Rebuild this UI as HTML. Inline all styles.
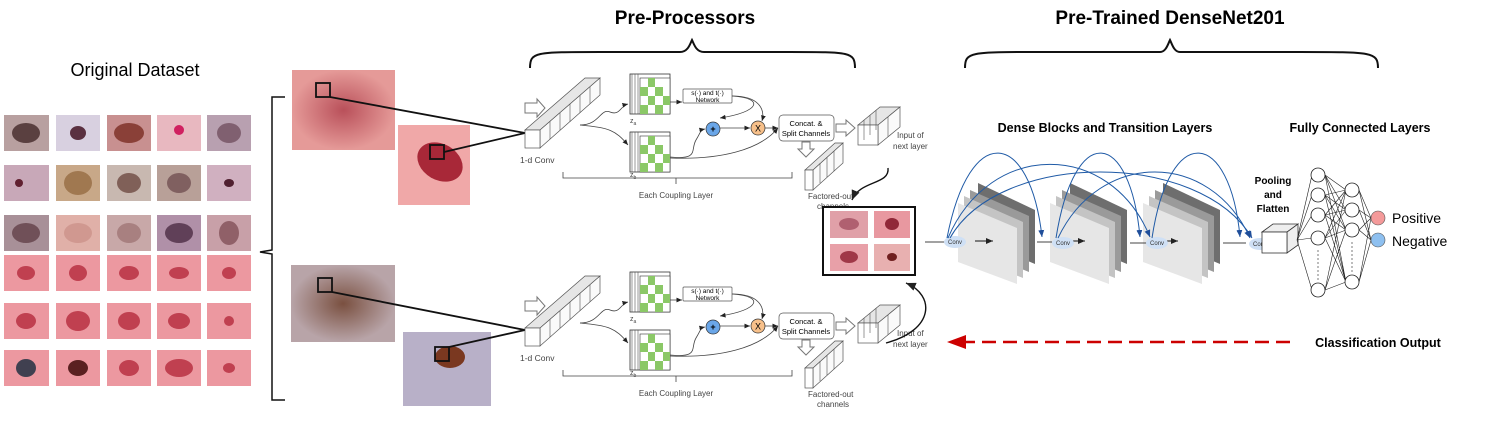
<!DOCTYPE html><html><head><meta charset="utf-8"><style>body{margin:0;background:#fff}svg{display:block;font-family:"Liberation Sans",sans-serif}</style></head><body>
<svg width="1495" height="422" viewBox="0 0 1495 422" xmlns="http://www.w3.org/2000/svg">
<defs>
<marker id="ar" markerWidth="8" markerHeight="8" refX="7" refY="4" orient="auto"><path d="M0,1 L7,4 L0,7z" fill="#222"/></marker>
<marker id="ab" markerWidth="8" markerHeight="8" refX="7" refY="4" orient="auto"><path d="M0,1 L7,4 L0,7z" fill="#1f4e9a"/></marker>
<radialGradient id="sk1"><stop offset="0" stop-color="#b9505a"/><stop offset="1" stop-color="#e59a98"/></radialGradient>
<radialGradient id="sk2"><stop offset="0" stop-color="#7a5040"/><stop offset="1" stop-color="#b8a4a8"/></radialGradient>
<g id="cube"><rect x="0" y="0" width="40" height="40" fill="#fff" stroke="#333" stroke-width="0.8"/>
<rect x="10" y="4" width="30" height="36" fill="#fff" stroke="#333" stroke-width="0.6"/>
<g fill="#8bc867"><rect x="18" y="4" width="7" height="9"/><rect x="10" y="13" width="8" height="9"/><rect x="25" y="13" width="8" height="9"/><rect x="18" y="22" width="7" height="9"/><rect x="33" y="22" width="7" height="9"/><rect x="10" y="31" width="8" height="9"/><rect x="25" y="31" width="8" height="9"/></g>
<path d="M2,0V40M5,0V40M8,0V40" stroke="#555" stroke-width="0.6"/></g>
<g id="coupling">
<path d="M525,103 h12 v-4 l8,9 l-8,9 v-4 h-12z" fill="#fff" stroke="#777"/>
<path d="M525,130 L585,78 L600,78 L540,130Z" fill="#e6e6e6" stroke="#555" stroke-width="0.7"/>
<path d="M540,130 L600,78 L600,95 L540,148Z" fill="#fafafa" stroke="#555" stroke-width="0.7"/>
<path d="M550,121V139M560,113V130M570,104V122M580,95V113M590,87V104" stroke="#555" stroke-width="0.6"/>
<rect x="525" y="130" width="15" height="18" fill="#fff" stroke="#555" stroke-width="0.7"/>
<text x="520" y="163" font-size="8.5" fill="#444">1-d Conv</text>
<use href="#cube" x="630" y="74"/><text x="630" y="123" font-size="7" fill="#444">z<tspan font-size="5" dy="2">a</tspan></text>
<use href="#cube" x="630" y="132"/><text x="630" y="177" font-size="7" fill="#444">z<tspan font-size="5" dy="2">b</tspan></text>
<path d="M580,125 C600,125 600,108 610,112 S620,106 628,104" fill="none" stroke="#444" stroke-width="0.8" marker-end="url(#ar)"/>
<path d="M580,125 C610,128 615,130 628,145" fill="none" stroke="#444" stroke-width="0.8" marker-end="url(#ar)"/>
<path d="M670,102 H682" stroke="#444" stroke-width="0.8" marker-end="url(#ar)"/>
<rect x="683" y="89" width="49" height="14" rx="1" fill="#fff" stroke="#555" stroke-width="0.7"/>
<text x="707.5" y="95" font-size="6.5" text-anchor="middle">s(·) and t(·)</text><text x="707.5" y="102" font-size="6.5" text-anchor="middle">Network</text>
<path d="M732,96 C765,98 760,112 720,118" fill="none" stroke="#444" stroke-width="0.8" marker-end="url(#ar)"/>
<path d="M732,96 C760,96 765,110 762,121" fill="none" stroke="#444" stroke-width="0.8" marker-end="url(#ar)"/>
<circle cx="713" cy="129" r="7" fill="#6aa6e8" stroke="#333" stroke-width="0.7"/><text x="713" y="132" font-size="9" text-anchor="middle" font-weight="bold">+</text>
<circle cx="758" cy="128" r="7" fill="#f7c08a" stroke="#333" stroke-width="0.7"/><text x="758" y="131.5" font-size="9" text-anchor="middle">X</text>
<path d="M720,128 H750" stroke="#444" stroke-width="0.8" marker-end="url(#ar)"/>
<path d="M670,157 C700,160 690,150 696,140 S700,130 705,129" fill="none" stroke="#444" stroke-width="0.8" marker-end="url(#ar)"/>
<path d="M670,158 C720,160 760,150 778,128" fill="none" stroke="#444" stroke-width="0.8" marker-end="url(#ar)"/>
<path d="M765,128 H778" stroke="#444" stroke-width="0.8" marker-end="url(#ar)"/>
<rect x="779" y="115" width="55" height="26" rx="4" fill="#fff" stroke="#555" stroke-width="0.7"/>
<text x="806" y="126" font-size="7.5" text-anchor="middle">Concat. &amp;</text><text x="806" y="136" font-size="7.5" text-anchor="middle">Split Channels</text>
<path d="M836,124 h10 v-4 l9,8 l-9,8 v-4 h-10z" fill="#fff" stroke="#777"/>
<path d="M802,142 h8 v7 h4 l-8,8 l-8,-8 h4z" fill="#fff" stroke="#777"/>
<path d="M858,125 L880,107 L900,107 L878,125Z" fill="#e6e6e6" stroke="#555" stroke-width="0.7"/>
<path d="M878,125 L900,107 V127 L878,145Z" fill="#fafafa" stroke="#555" stroke-width="0.7"/>
<rect x="858" y="125" width="20" height="20" fill="#fff" stroke="#555" stroke-width="0.7"/>
<path d="M864,120V140M870,115V135M876,110V130M888,117V137" stroke="#555" stroke-width="0.6"/>
<text x="897" y="138" font-size="8" fill="#444">Input of</text><text x="893" y="149" font-size="8" fill="#444">next layer</text>
<path d="M805,170 L835,143 L843,143 L813,170Z" fill="#e6e6e6" stroke="#555" stroke-width="0.7"/>
<path d="M813,170 L843,143 V163 L813,190Z" fill="#fafafa" stroke="#555" stroke-width="0.7"/>
<rect x="805" y="170" width="8" height="20" fill="#fff" stroke="#555" stroke-width="0.7"/>
<path d="M820,163V183M827,157V177M834,151V171" stroke="#555" stroke-width="0.6"/>
<text x="808" y="199" font-size="8" fill="#444">Factored-out</text><text x="817" y="209" font-size="8" fill="#444">channels</text>
<path d="M563,172V178H792V172M676,178V184" fill="none" stroke="#444" stroke-width="0.8"/>
<text x="676" y="198" font-size="8" fill="#444" text-anchor="middle">Each Coupling Layer</text>
</g>
</defs>

<text x="135" y="76" font-size="18" text-anchor="middle">Original Dataset</text>
<g>
<rect x="4" y="115" width="45" height="36" fill="#b8a0a0"/><ellipse cx="26" cy="133" rx="14" ry="10" fill="#5a4040"/>
<rect x="56" y="115" width="44" height="36" fill="#d8d0e0"/><ellipse cx="78" cy="133" rx="8" ry="7" fill="#5a3040"/>
<rect x="107" y="115" width="44" height="36" fill="#c89090"/><ellipse cx="129" cy="133" rx="15" ry="10" fill="#8a4038"/>
<rect x="157" y="115" width="44" height="36" fill="#e8b8c0"/><ellipse cx="179" cy="130" rx="5" ry="5" fill="#d02060"/>
<rect x="207" y="115" width="44" height="36" fill="#b8a0b0"/><ellipse cx="229" cy="133" rx="12" ry="10" fill="#806070"/>
<rect x="4" y="165" width="45" height="36" fill="#c8a8b8"/><ellipse cx="19" cy="183" rx="4" ry="4" fill="#602030"/>
<rect x="56" y="165" width="44" height="36" fill="#c8a888"/><ellipse cx="78" cy="183" rx="14" ry="12" fill="#a07850"/>
<rect x="107" y="165" width="44" height="36" fill="#c8b8b0"/><ellipse cx="129" cy="183" rx="12" ry="10" fill="#806058"/>
<rect x="157" y="165" width="44" height="36" fill="#b8a098"/><ellipse cx="179" cy="183" rx="12" ry="10" fill="#806060"/>
<rect x="207" y="165" width="44" height="36" fill="#d0b0c0"/><ellipse cx="229" cy="183" rx="5" ry="4" fill="#502030"/>
<rect x="4" y="215" width="45" height="36" fill="#a89098"/><ellipse cx="26" cy="233" rx="14" ry="10" fill="#705058"/>
<rect x="56" y="215" width="44" height="36" fill="#e0b0a8"/><ellipse cx="78" cy="233" rx="14" ry="10" fill="#d09890"/>
<rect x="107" y="215" width="44" height="36" fill="#c8a8a8"/><ellipse cx="129" cy="233" rx="12" ry="10" fill="#a88080"/>
<rect x="157" y="215" width="44" height="36" fill="#b090a8"/><ellipse cx="179" cy="233" rx="14" ry="10" fill="#604058"/>
<rect x="207" y="215" width="44" height="36" fill="#c8a0a8"/><ellipse cx="229" cy="233" rx="10" ry="12" fill="#906068"/>
<g fill="#ec98a0"><rect x="4" y="255" width="45" height="36"/><rect x="56" y="255" width="44" height="36"/><rect x="107" y="255" width="44" height="36"/><rect x="157" y="255" width="44" height="36"/><rect x="207" y="255" width="44" height="36"/>
<rect x="4" y="303" width="45" height="36"/><rect x="56" y="303" width="44" height="36"/><rect x="107" y="303" width="44" height="36"/><rect x="157" y="303" width="44" height="36"/><rect x="207" y="303" width="44" height="36"/>
<rect x="4" y="350" width="45" height="36"/><rect x="56" y="350" width="44" height="36"/><rect x="107" y="350" width="44" height="36"/><rect x="157" y="350" width="44" height="36"/><rect x="207" y="350" width="44" height="36"/></g>
<g fill="#c04050"><ellipse cx="26" cy="273" rx="9" ry="7"/><ellipse cx="78" cy="273" rx="9" ry="8"/><ellipse cx="129" cy="273" rx="10" ry="7"/><ellipse cx="179" cy="273" rx="10" ry="6"/><ellipse cx="229" cy="273" rx="7" ry="6"/>
<ellipse cx="26" cy="321" rx="10" ry="8"/><ellipse cx="78" cy="321" rx="12" ry="10"/><ellipse cx="129" cy="321" rx="11" ry="9"/><ellipse cx="179" cy="321" rx="11" ry="8"/><ellipse cx="229" cy="321" rx="5" ry="5"/>
<ellipse cx="78" cy="368" rx="10" ry="8" fill="#5a2020"/><ellipse cx="129" cy="368" rx="10" ry="8"/><ellipse cx="179" cy="368" rx="14" ry="9"/><ellipse cx="229" cy="368" rx="6" ry="5"/></g>
<ellipse cx="26" cy="368" rx="10" ry="9" fill="#404050"/>
</g>
<path d="M285,97 H272 V250 L260,252 L272,254 V400 H285" fill="none" stroke="#111" stroke-width="1.5"/>

<rect x="292" y="70" width="103" height="80" fill="url(#sk1)"/>
<rect x="398" y="125" width="72" height="80" fill="#f0a8a8"/><ellipse cx="440" cy="162" rx="24" ry="18" fill="#a82838" transform="rotate(30 440 162)"/>
<rect x="291" y="265" width="104" height="77" fill="url(#sk2)"/>
<rect x="403" y="332" width="88" height="74" fill="#b8b0c8"/><ellipse cx="450" cy="357" rx="15" ry="11" fill="#7a3820"/>
<g fill="none" stroke="#111" stroke-width="1.8">
<rect x="316" y="83" width="14" height="14"/><rect x="430" y="145" width="14" height="14"/>
<rect x="318" y="278" width="14" height="14"/><rect x="435" y="347" width="14" height="14"/>
<path d="M330,97 L525,133 M444,152 L525,133"/>
<path d="M332,292 L525,330 M449,347 L525,330"/></g>

<text x="685" y="24" font-size="19" font-weight="bold" text-anchor="middle">Pre-Processors</text>
<path d="M530,68 C530,52 535,52 600,52 H680 C688,52 690,44 692,40 C694,44 696,52 704,52 H790 C850,52 855,52 855,68" fill="none" stroke="#111" stroke-width="2"/>
<text x="1170" y="24" font-size="19" font-weight="bold" text-anchor="middle">Pre-Trained DenseNet201</text>
<path d="M965,68 C965,52 970,52 1040,52 H1160 C1166,52 1168,44 1170,40 C1172,44 1174,52 1180,52 H1300 C1372,52 1378,52 1378,68" fill="none" stroke="#111" stroke-width="2"/>

<use href="#coupling"/>
<use href="#coupling" y="198"/>

<rect x="823" y="207" width="92" height="68" fill="#fff" stroke="#111" stroke-width="2"/>
<rect x="830" y="211" width="38" height="27" fill="#e0a0a8"/><ellipse cx="849" cy="224" rx="10" ry="6" fill="#b06070"/>
<rect x="874" y="211" width="36" height="27" fill="#e898a0"/><ellipse cx="892" cy="224" rx="7" ry="6" fill="#902838"/>
<rect x="830" y="244" width="38" height="27" fill="#e8a0a8"/><ellipse cx="849" cy="257" rx="9" ry="6" fill="#a03848"/>
<rect x="874" y="244" width="36" height="27" fill="#e8b0b0"/><ellipse cx="892" cy="257" rx="5" ry="4" fill="#702020"/>
<path d="M888,168 C890,185 860,180 852,200" fill="none" stroke="#111" stroke-width="1.4" marker-end="url(#ar)"/>
<path d="M886,343 C935,330 935,295 906,283" fill="none" stroke="#111" stroke-width="1.4" marker-end="url(#ar)"/>

<text x="1105" y="132" font-size="12.5" font-weight="bold" text-anchor="middle">Dense Blocks and Transition Layers</text>
<text x="1360" y="132" font-size="12.5" font-weight="bold" text-anchor="middle">Fully Connected Layers</text>
<g id="blk">
<path d="M978,183 L1035,210 V264 L978,240Z" fill="#6e6e6e"/>
<path d="M970,190 L1029,216 V272 L970,248Z" fill="#9a9a9a"/>
<path d="M964,196 L1023,222 V278 L964,255Z" fill="#c4c4c4"/>
<path d="M958,203 L1017,228 V284 L958,262Z" fill="#e6e6e6"/>
<path d="M975,241 H993" stroke="#111" stroke-width="1" marker-end="url(#ar)"/>
</g>
<use href="#blk" x="92"/><use href="#blk" x="185"/>
<path d="M925,242 H945 M1037,242 H1052 M1130,243 H1148 M1223,243 H1246 M1268,243 H1276" stroke="#444" stroke-width="1"/>
<g fill="#cfe0f5"><ellipse cx="955" cy="242" rx="11" ry="6"/><ellipse cx="1063" cy="243" rx="11" ry="6"/><ellipse cx="1157" cy="243" rx="11" ry="6"/><ellipse cx="1260" cy="244" rx="11" ry="6"/></g>
<g font-size="6" text-anchor="middle" fill="#333"><text x="955" y="244">Conv</text><text x="1063" y="245">Conv</text><text x="1157" y="245">Conv</text><text x="1260" y="246">Conv</text></g>
<g fill="none" stroke="#1f5aa6" stroke-width="1" marker-end="url(#ab)">
<path d="M947,238 C970,120 1030,130 1042,237"/>
<path d="M948,238 C990,140 1110,140 1150,237"/>
<path d="M950,238 C1000,150 1200,150 1252,238"/>
<path d="M1056,238 C1075,120 1130,130 1140,237"/>
<path d="M1058,238 C1100,150 1210,150 1250,238"/>
<path d="M1152,238 C1170,120 1230,130 1240,237"/>
</g>
<text x="1273" y="184" font-size="10" font-weight="bold" text-anchor="middle">Pooling</text>
<text x="1273" y="198" font-size="10" font-weight="bold" text-anchor="middle">and</text>
<text x="1273" y="212" font-size="10" font-weight="bold" text-anchor="middle">Flatten</text>
<path d="M1262,232 L1273,224 H1298 L1287,232Z M1287,232 L1298,224 V245 L1287,253Z" fill="#eee" stroke="#333" stroke-width="0.8"/>
<rect x="1262" y="232" width="25" height="21" fill="#fff" stroke="#333" stroke-width="0.8"/>
<g stroke="#222" stroke-width="0.6">
<path d="M1297,240 L1312,175 M1297,240 L1312,195 M1297,240 L1312,215 M1297,240 L1312,238 M1297,240 L1312,290"/>
<path d="M1325,175 L1346,190 M1325,175 L1346,210 M1325,175 L1346,230 M1325,175 L1346,282 M1325,195 L1346,190 M1325,195 L1346,210 M1325,195 L1346,230 M1325,195 L1346,282 M1325,215 L1346,190 M1325,215 L1346,210 M1325,215 L1346,230 M1325,215 L1346,282 M1325,238 L1346,190 M1325,238 L1346,210 M1325,238 L1346,230 M1325,238 L1346,282 M1325,290 L1346,190 M1325,290 L1346,230 M1325,290 L1346,282"/>
<path d="M1359,190 L1371,218 M1359,210 L1371,218 M1359,230 L1371,218 M1359,282 L1371,218 M1359,190 L1371,240 M1359,210 L1371,240 M1359,230 L1371,240 M1359,282 L1371,240"/>
</g>
<g fill="#fff" stroke="#222" stroke-width="0.8">
<circle cx="1318" cy="175" r="7"/><circle cx="1318" cy="195" r="7"/><circle cx="1318" cy="215" r="7"/><circle cx="1318" cy="238" r="7"/><circle cx="1318" cy="290" r="7"/>
<circle cx="1352" cy="190" r="7"/><circle cx="1352" cy="210" r="7"/><circle cx="1352" cy="230" r="7"/><circle cx="1352" cy="282" r="7"/></g>
<path d="M1318,250V280 M1352,242V272" stroke="#444" stroke-width="0.7" stroke-dasharray="2,2"/>
<circle cx="1378" cy="218" r="7" fill="#f49a9a" stroke="#555" stroke-width="0.6"/>
<circle cx="1378" cy="240" r="7" fill="#8ec0f0" stroke="#555" stroke-width="0.6"/>
<text x="1392" y="223" font-size="14">Positive</text>
<text x="1392" y="246" font-size="14">Negative</text>

<path d="M1290,342 H962" stroke="#c00" stroke-width="2.5" stroke-dasharray="14,7"/>
<path d="M947,342 L966,335 L966,349Z" fill="#c00"/>
<text x="1378" y="347" font-size="12.5" font-weight="bold" text-anchor="middle">Classification Output</text>
</svg>
</body></html>
